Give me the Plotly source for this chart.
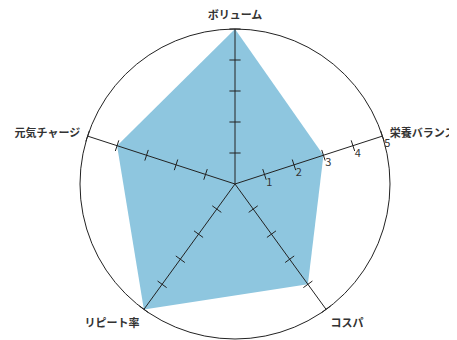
import plotly.graph_objects as go

# data
categories = ["ボリューム", "栄養バランス", "コスパ", "リピート率", "元気チャージ"]
scores = [5, 3, 4, 5, 4]
tick_values = [1, 2, 3, 4, 5]

FILL = "#8EC6DF"
INK = "#222222"
FONT = "Noto Sans CJK JP"

fig = go.Figure()

# score polygon
fig.add_trace(go.Scatterpolar(
    r=scores + scores[:1],
    theta=categories + categories[:1],
    mode="lines",
    fill="toself",
    fillcolor=FILL,
    line=dict(width=0, color=FILL),
    hoverinfo="skip",
))

# spokes drawn above the fill
for i, cat in enumerate(categories):
    fig.add_trace(go.Scatterpolar(
        r=[0, tick_values[-1]],
        theta=[cat, cat],
        mode="lines",
        line=dict(color=INK, width=1),
        hoverinfo="skip",
    ))
    # small tick marks across each spoke
    direction = 90 - 72 * i
    fig.add_trace(go.Scatterpolar(
        r=tick_values,
        theta=[cat] * len(tick_values),
        mode="markers",
        marker=dict(symbol="line-ns", size=8, angle=-direction,
                    line=dict(color=INK, width=1)),
        hoverinfo="skip",
    ))

fig.update_layout(
    width=457,
    height=340,
    showlegend=False,
    paper_bgcolor="white",
    plot_bgcolor="white",
    margin=dict(l=72, r=75, t=21, b=9),
    font=dict(family=FONT, color="#333333"),
    polar=dict(
        bgcolor="white",
        radialaxis=dict(
            range=[0, 5],
            tickvals=tick_values,
            ticks="",
            showline=False,
            showgrid=False,
            angle=18,
            tickangle=18,
            side="clockwise",
            tickfont=dict(size=11, color="#333333"),
        ),
        angularaxis=dict(
            rotation=90,
            direction="clockwise",
            showgrid=False,
            showline=True,
            linecolor=INK,
            linewidth=1,
            ticks="outside",
            ticklen=5,
            tickcolor="rgba(0,0,0,0)",
            tickfont=dict(size=11, color="#333333", family=FONT, weight="bold"),
        ),
    ),
)

fig.write_html("out.html")
